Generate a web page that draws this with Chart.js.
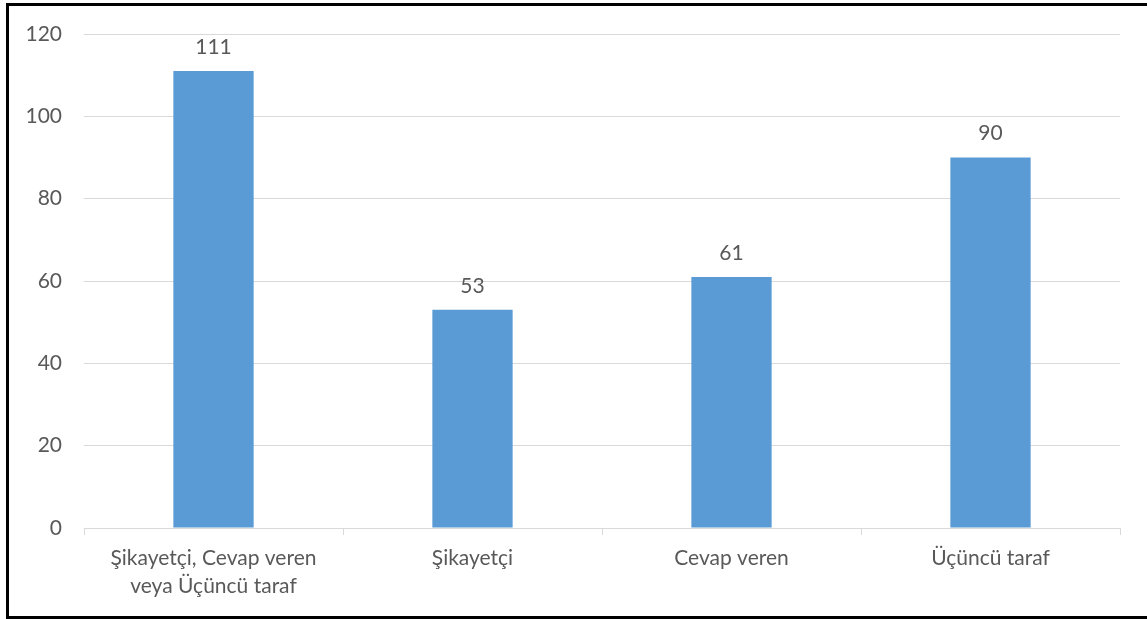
<!DOCTYPE html>
<html>
<head>
<meta charset="utf-8">
<script src="https://cdn.jsdelivr.net/npm/chart.js@4.4.0/dist/chart.umd.min.js"></script>
<style>
  html, body { margin: 0; padding: 0; background: #fff; overflow: hidden; }
  .frame {
    position: absolute;
    left: 6px; top: 3px;
    width: 1150px; height: 610px;
    border: 3px solid #000;
  }
  canvas { display: block; }
</style>
</head>
<body>
<div class="frame"><canvas id="myChart" width="1150" height="610"></canvas></div>
<script>
const categories = [['Şikayetçi, Cevap veren', 'veya Üçüncü taraf'], 'Şikayetçi', 'Cevap veren', 'Üçüncü taraf'];
const values = [111, 53, 61, 90];
const yTicks = [0, 20, 40, 60, 80, 100, 120];

const textColor = '#595959';
const gridColor = '#D9D9D9';
const fontFamily = "Lato, 'Open Sans', sans-serif";

// draw the numbers above each bar
const valueLabels = {
    id: 'valueLabels',
    afterDatasetsDraw(chart) {
        const ctx = chart.ctx;
        const meta = chart.getDatasetMeta(0);
        ctx.save();
        ctx.fillStyle = textColor;
        ctx.font = '21px ' + fontFamily;
        ctx.textAlign = 'center';
        ctx.textBaseline = 'middle';
        meta.data.forEach(function (bar, i) {
            ctx.fillText(chart.data.datasets[0].data[i], bar.x, bar.y - 24);
        });
        ctx.restore();
    }
};

document.addEventListener("DOMContentLoaded", function () {
    const ctx = document.getElementById('myChart').getContext('2d');
    new Chart(ctx, {
        type: 'bar',
        data: {
            labels: categories,
            datasets: [{
                data: values,
                backgroundColor: '#5B9BD5',
                borderWidth: 0,
                categoryPercentage: 1,
                barPercentage: 0.31
            }]
        },
        options: {
            responsive: false,
            animation: false,
            layout: { padding: { top: 28, right: 39, left: 0, bottom: 0 } },
            plugins: {
                legend: { display: false },
                tooltip: { enabled: false }
            },
            scales: {
                x: {
                    grid: {
                        display: true,
                        drawOnChartArea: false,
                        offset: true,
                        color: gridColor,
                        tickLength: 7,
                        lineWidth: 1
                    },
                    border: { display: true, color: gridColor, width: 1 },
                    ticks: {
                        color: textColor,
                        font: { family: fontFamily, size: 21, lineHeight: 1.35 },
                        padding: 9,
                        maxRotation: 0,
                        autoSkip: false
                    },
                    afterFit(axis) { axis.height = 88; }
                },
                y: {
                    min: 0,
                    max: 120,
                    afterBuildTicks(axis) { axis.ticks = yTicks.map(v => ({ value: v })); },
                    grid: { color: gridColor, drawTicks: false, lineWidth: 1 },
                    border: { display: false },
                    ticks: {
                        color: textColor,
                        font: { family: fontFamily, size: 21, lineHeight: 1 },
                        padding: 22
                    },
                    afterFit(axis) {
                        axis.width = 75;
                        axis.paddingTop = 0;
                        axis.paddingBottom = 0;
                    }
                }
            }
        },
        plugins: [valueLabels]
    });
});
</script>
</body>
</html>
